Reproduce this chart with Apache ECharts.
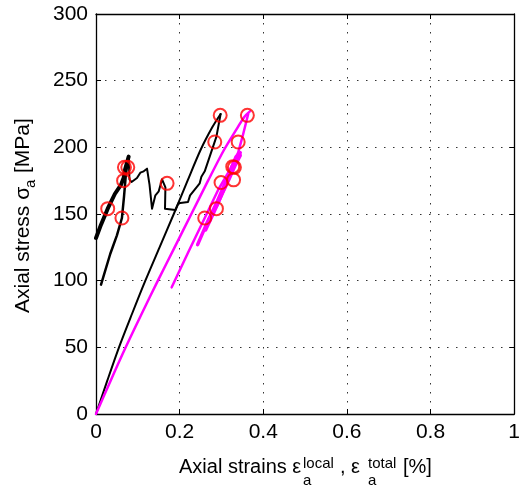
<!DOCTYPE html>
<html>
<head>
<meta charset="utf-8">
<script src="https://cdn.jsdelivr.net/npm/echarts@6/dist/echarts.min.js"></script>
<style>
html,body{margin:0;padding:0;background:#fff;}
#chart{width:523px;height:493px;}
</style>
</head>
<body>
<div id="chart"></div>
<script>
// ---- data (strain [%], stress [MPa]) ----
var xTicks = [0, 0.2, 0.4, 0.6, 0.8, 1];
var yTicks = [0, 50, 100, 150, 200, 250, 300];

// black curves (local strain)
var blackLoading = [[0,0],[0.027,25],[0.055,50],[0.086,75],[0.118,100],[0.152,125],[0.186,150],[0.219,175],[0.25,198],[0.278,215],[0.298,225]];
var blackLoopUpper = [[0,132],[0.012,142],[0.028,154],[0.045,165],[0.06,172],[0.066,177],[0.07,184],[0.078,193]];
var blackLoopLower = [[0.012,97],[0.034,120],[0.05,134],[0.062,147],[0.067,163],[0.071,178],[0.075,188],[0.078,193]];
var blackPath = [[0.078,193],[0.08,176],[0.085,174],[0.098,177],[0.106,181],[0.114,182],[0.122,184],[0.128,172],[0.134,154],[0.142,164],[0.15,167],[0.158,176],[0.162,177],[0.166,170],[0.165,154],[0.19,153],[0.193,153],[0.197,158],[0.22,159],[0.225,164],[0.248,173],[0.252,178],[0.26,182],[0.288,208],[0.298,225]];

// magenta curves (total strain)
var magentaLoading = [[0,0],[0.035,25],[0.071,50],[0.109,75],[0.148,100],[0.188,125],[0.228,150],[0.268,175],[0.306,198],[0.337,214],[0.355,223],[0.368,227]];
var magentaReload = [[0.181,95],[0.22,121],[0.26,147],[0.292,168],[0.32,183],[0.34,196],[0.352,210],[0.364,225]];
var magentaLoopA = [[0.243,127],[0.265,143],[0.288,158],[0.31,174],[0.335,193],[0.345,196]];
var magentaLoopB = [[0.262,138],[0.28,150],[0.30,164],[0.318,176],[0.332,186],[0.345,194]];
var magentaLoopC = [[0.27,146],[0.29,157],[0.305,168],[0.322,180],[0.338,192]];

// red circle markers
var circlesLocal = [[0.028,154],[0.062,147],[0.066,175],[0.068,185],[0.076,185],[0.170,173],[0.284,204],[0.297,224]];
var circlesTotal = [[0.362,224],[0.340,204],[0.327,185.5],[0.331,185],[0.299,173.6],[0.329,175.6],[0.288,154],[0.260,147]];

var FONT = '"Liberation Sans", Arial, Helvetica, sans-serif';
var chart = echarts.init(document.getElementById('chart'), null, {renderer:'canvas'});

function lineSeries(data, color, width, smooth){
  return {type:'line', data:data, showSymbol:false, symbol:'none', animation:false, smooth:smooth || false,
    lineStyle:{color:color, width:width, join:'round', cap:'round'}, z:2};
}
function txt(x, y, text, size){
  return {type:'text', x:x, y:y, silent:true,
    style:{text:text, fontSize:size, fontFamily:FONT, fill:'#000', textAlign:'left', textVerticalAlign:'middle', verticalAlign:'middle'}};
}

var gridLine = {show:true, lineStyle:{color:'#333', width:1, type:[1.5,7.5]}};
var axisLineStyle = {show:true, onZero:false, lineStyle:{color:'#000', width:1.3}};

var option = {
  animation:false,
  backgroundColor:'#fff',
  grid:{left:96, right:5, top:14, bottom:79, containLabel:false},
  xAxis:[{
    type:'value', min:xTicks[0], max:xTicks[xTicks.length-1], interval:0.2, position:'bottom',
    axisLine:axisLineStyle,
    axisTick:{show:true, inside:true, length:5, lineStyle:{color:'#000'}},
    axisLabel:{show:true, margin:8, fontSize:21, fontFamily:FONT, color:'#000'},
    splitLine:gridLine
  },{
    type:'value', min:xTicks[0], max:xTicks[xTicks.length-1], interval:0.2, position:'top',
    axisLine:axisLineStyle,
    axisTick:{show:true, inside:true, length:5, lineStyle:{color:'#000'}},
    axisLabel:{show:false}, splitLine:{show:false}
  }],
  yAxis:[{
    type:'value', min:yTicks[0], max:yTicks[yTicks.length-1], interval:50, position:'left',
    axisLine:axisLineStyle,
    axisTick:{show:true, inside:true, length:5, lineStyle:{color:'#000'}},
    axisLabel:{show:true, margin:8, fontSize:21, fontFamily:FONT, color:'#000'},
    splitLine:gridLine
  },{
    type:'value', min:yTicks[0], max:yTicks[yTicks.length-1], interval:50, position:'right',
    axisLine:axisLineStyle,
    axisTick:{show:true, inside:true, length:5, lineStyle:{color:'#000'}},
    axisLabel:{show:false}, splitLine:{show:false}
  }],
  series:[
    lineSeries(blackLoading, '#000', 2, 0.3),
    lineSeries(blackLoopUpper, '#000', 4),
    lineSeries(blackLoopLower, '#000', 2.5),
    lineSeries(blackPath, '#000', 2),
    lineSeries(magentaLoading, '#ff00ff', 2.5, 0.3),
    lineSeries(magentaReload, '#ff00ff', 2.5),
    lineSeries(magentaLoopA, '#ff00ff', 3.5),
    lineSeries(magentaLoopB, '#ff00ff', 3.5),
    lineSeries(magentaLoopC, '#ff00ff', 3.5),
    {type:'scatter', data:circlesLocal.concat(circlesTotal), symbol:'circle', symbolSize:13, z:5,
      itemStyle:{color:'rgba(0,0,0,0)', borderColor:'#ff0000', borderWidth:2}, animation:false}
  ],
  graphic:[
    txt(179, 467.5, 'Axial strains \u03b5', 20),
    txt(303, 464, 'local', 15),
    txt(303, 481, 'a', 15),
    txt(340, 467.5, ', \u03b5', 20),
    txt(368, 464, 'total', 15),
    txt(368, 481, 'a', 15),
    txt(403, 467.5, '[%]', 20),
    {type:'group', x:31, y:313, rotation:Math.PI/2, children:[
      txt(0, -7.4, 'Axial stress \u03c3', 21),
      txt(125, 0, 'a', 15),
      txt(140, -7.4, '[MPa]', 21)
    ]}
  ]
};
chart.setOption(option);
</script>
</body>
</html>
